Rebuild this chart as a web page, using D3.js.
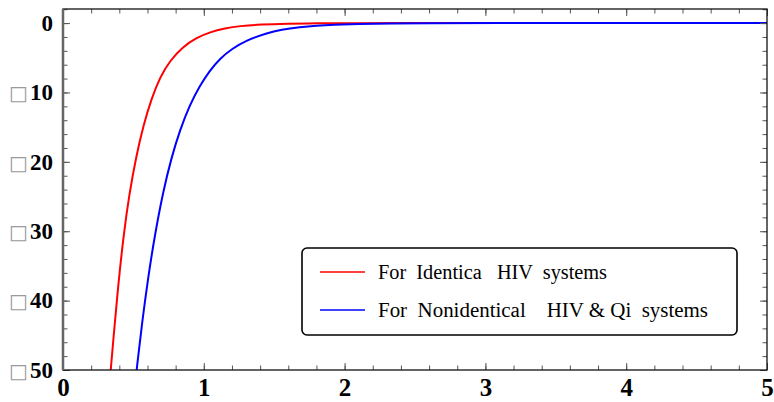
<!DOCTYPE html>
<html>
<head>
<meta charset="utf-8">
<script src="https://cdn.jsdelivr.net/npm/d3@7"></script>
<style>
  body { margin: 0; background: #fff; }
  svg { display: block; }
</style>
</head>
<body>
<div id="svganchor"></div>
<script>
/*
------------------------
DATA: values
------------------------
*/
var redX = [0.339, 0.36, 0.393, 0.43, 0.471, 0.52, 0.57, 0.63, 0.689, 0.76, 0.852, 0.95, 1.044, 1.15, 1.257, 1.4, 1.6, 1.8, 2.0, 2.5, 3, 4, 5];
var redY = [-50, -45, -37.6, -30.6, -24.6, -19.2, -14.8, -10.8, -7.8, -5.4, -3.4, -2.1, -1.3, -0.75, -0.42, -0.2, -0.08, -0.03, -0.01, 0, 0, 0, 0];

var blueX = [0.523, 0.56, 0.606, 0.65, 0.712, 0.77, 0.831, 0.9, 0.973, 1.04, 1.115, 1.2, 1.3, 1.447, 1.55, 1.683, 1.8, 1.918, 2.1, 2.3, 2.6, 3, 4, 5];
var blueY = [-50, -43.4, -36.5, -30.8, -24.2, -19.4, -15.4, -11.8, -9.0, -6.9, -5.1, -3.7, -2.5, -1.44, -0.95, -0.58, -0.36, -0.22, -0.11, -0.05, -0.015, 0, 0, 0];

var xTicks = [0, 1, 2, 3, 4, 5];
var yTicks = [0, -10, -20, -30, -40, -50];
var yTickLabels = ["0", "\u25A110", "\u25A120", "\u25A130", "\u25A140", "\u25A150"];
var legendLabels = ["For  Identica   HIV  systems", "For  Nonidentical    HIV & Qi  systems"];
var seriesColors = ["#ff0000", "#0000ff"];

var serif = "'Liberation Serif', 'Times New Roman', serif";

/*
------------------------
METHOD: set the dimensions of the graph
------------------------
*/
var width = 774, height = 402;
var margin = { top: 9, right: 7, bottom: 32, left: 63 };
var plotW = width - margin.left - margin.right,
  plotH = height - margin.top - margin.bottom;

var svg = d3.select("#svganchor").append("svg")
  .attr("width", width)
  .attr("height", height);

var g = svg.append("g")
  .attr("transform", "translate(" + margin.left + "," + margin.top + ")");

var x = d3.scaleLinear().domain([0, 5]).range([0, plotW]);
var y = d3.scaleLinear().domain([-50, 2.03]).range([plotH, 0]);

// clip the curves to the frame
g.append("clipPath").attr("id", "plotclip")
  .append("rect").attr("width", plotW).attr("height", plotH);

/*
------------------------
METHOD: curves
------------------------
*/
var series = [
  { name: legendLabels[0], values: redX.map(function (d, i) { return { x: d, y: redY[i] }; }) },
  { name: legendLabels[1], values: blueX.map(function (d, i) { return { x: d, y: blueY[i] }; }) }
];

var line = d3.line()
  .curve(d3.curveBasis)
  .x(function (d) { return x(d.x) })
  .y(function (d) { return y(d.y) });

g.append("g").attr("clip-path", "url(#plotclip)")
  .selectAll("path")
  .data(series)
  .enter()
  .append("path")
  .attr("d", function (d) { return line(d.values) })
  .attr("fill", "none")
  .attr("stroke", function (d, i) { return seriesColors[i] })
  .attr("stroke-width", 2);

/*
------------------------
METHOD: axes with inward ticks on all four sides
------------------------
*/
var xMinor = d3.range(0, 5.0001, 0.2);
var yMinor = d3.range(-50, 2.0001, 2);

function styleAxis(sel) {
  sel.select(".domain").remove();
  sel.selectAll("line").attr("stroke", "#555").attr("stroke-width", 1);
}

// bottom
g.append("g").attr("transform", "translate(0," + plotH + ")")
  .call(d3.axisBottom(x).tickValues(xMinor).tickSize(-4.5).tickFormat(""))
  .call(styleAxis);
g.append("g").attr("transform", "translate(0," + plotH + ")")
  .call(d3.axisBottom(x).tickValues(xTicks).tickSize(-7).tickPadding(8).tickFormat(d3.format("d")))
  .call(styleAxis)
  .selectAll("text")
  .attr("fill", "#000")
  .style("font-family", serif)
  .style("font-weight", "bold")
  .style("font-size", "25px");

// top
g.append("g")
  .call(d3.axisTop(x).tickValues(xMinor).tickSize(-4.5).tickFormat(""))
  .call(styleAxis);
g.append("g")
  .call(d3.axisTop(x).tickValues(xTicks).tickSize(-7).tickFormat(""))
  .call(styleAxis);

// left
g.append("g")
  .call(d3.axisLeft(y).tickValues(yMinor).tickSize(-4.5).tickFormat(""))
  .call(styleAxis);
var yAxis = g.append("g")
  .call(d3.axisLeft(y).tickValues(yTicks).tickSize(-7).tickPadding(10).tickFormat(""))
  .call(styleAxis);

yAxis.selectAll(".tick text")
  .style("font-family", serif)
  .style("font-size", "23px")
  .attr("fill", "#000")
  .each(function (d, i) {
    var t = d3.select(this);
    var label = yTickLabels[i];
    if (label.charAt(0) === "\u25A1") {
      t.append("tspan").text("\u25A1")
        .attr("fill", "#9a9a9a")
        .style("font-family", "'DejaVu Sans', sans-serif")
        .style("font-size", "20px");
      label = label.slice(1);
    }
    t.append("tspan").text(label)
      .attr("dx", label === "0" ? 0 : 2)
      .style("font-weight", "bold");
  });

// right
g.append("g").attr("transform", "translate(" + plotW + ",0)")
  .call(d3.axisRight(y).tickValues(yMinor).tickSize(-4.5).tickFormat(""))
  .call(styleAxis);
g.append("g").attr("transform", "translate(" + plotW + ",0)")
  .call(d3.axisRight(y).tickValues(yTicks).tickSize(-7).tickFormat(""))
  .call(styleAxis);

// frame
g.append("rect")
  .attr("width", plotW)
  .attr("height", plotH)
  .attr("fill", "none")
  .attr("stroke", "#111")
  .attr("stroke-width", 1.3);
g.append("line")
  .attr("x1", 0).attr("x2", 0)
  .attr("y1", 0).attr("y2", plotH)
  .attr("stroke", "#666")
  .attr("stroke-width", 2.5);

/*
------------------------
METHOD: legend box
------------------------
*/
var legend = svg.append("g").attr("transform", "translate(302,248)");
legend.append("rect")
  .attr("width", 435)
  .attr("height", 87)
  .attr("rx", 5)
  .attr("fill", "#fff")
  .attr("stroke", "#000")
  .attr("stroke-width", 1.6);

var legendRows = legend.selectAll("g.row")
  .data(series)
  .enter()
  .append("g")
  .attr("class", "row")
  .attr("transform", function (d, i) { return "translate(0," + (24 + i * 38) + ")" });

legendRows.append("line")
  .attr("x1", 18).attr("x2", 63)
  .attr("y1", 0).attr("y2", 0)
  .attr("stroke", function (d, i) { return seriesColors[i] })
  .attr("stroke-width", 1.6);

var legendWidths = [229, 330];
legendRows.append("text")
  .attr("x", 76)
  .attr("y", 7)
  .attr("textLength", function (d, i) { return legendWidths[i] })
  .attr("lengthAdjust", "spacingAndGlyphs")
  .style("font-family", serif)
  .style("font-size", "20px")
  .style("white-space", "pre")
  .attr("fill", "#000")
  .text(function (d) { return d.name });
</script>
</body>
</html>
